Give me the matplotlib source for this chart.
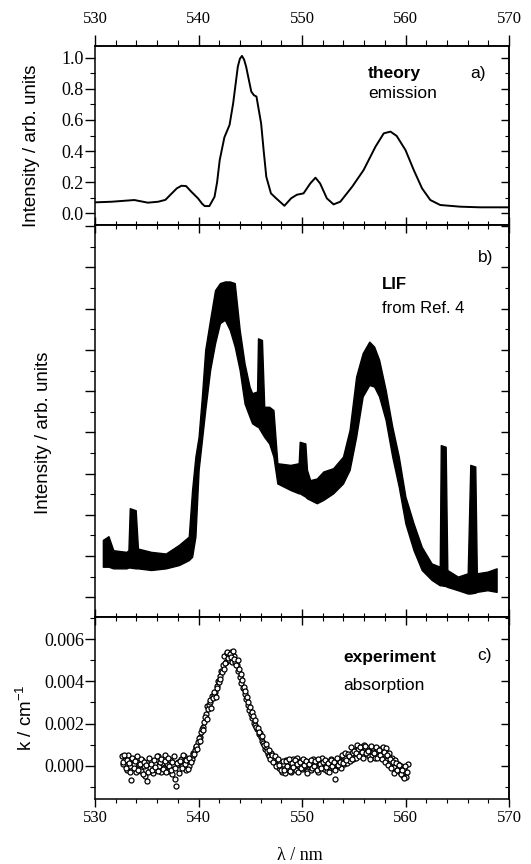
import numpy as np
import matplotlib
matplotlib.use("Agg")
import matplotlib.pyplot as plt
from matplotlib.ticker import MultipleLocator, FixedLocator

# ---- panel a) theory emission ----
theo_wl = [530.0, 531.6, 532.8, 533.8, 535.1, 536.1, 536.8, 537.2, 537.9, 538.35,
           538.8, 539.3, 539.95, 540.35, 540.6, 541.05, 541.55, 541.8, 542.05, 542.5,
           543.0, 543.35, 543.8, 544.0, 544.2, 544.4, 544.6, 545.1, 545.35, 545.6,
           546.05, 546.3, 546.55, 547.0, 547.5, 548.3, 548.95, 549.5, 550.15, 550.8,
           551.3, 551.75, 552.4, 553.05, 553.7, 554.85, 555.95, 557.1, 557.9, 558.55,
           559.15, 560.0, 560.8, 561.6, 562.4, 563.35, 565.3, 567.2, 570.0]
theo_int = [0.069, 0.073, 0.079, 0.084, 0.067, 0.073, 0.085, 0.112, 0.159, 0.176,
            0.174, 0.138, 0.095, 0.060, 0.045, 0.045, 0.105, 0.200, 0.342, 0.488,
            0.568, 0.708, 0.944, 0.995, 1.013, 0.990, 0.944, 0.783, 0.760, 0.751,
            0.578, 0.400, 0.234, 0.127, 0.095, 0.047, 0.095, 0.118, 0.127, 0.191,
            0.228, 0.191, 0.095, 0.056, 0.073, 0.170, 0.277, 0.428, 0.514, 0.525,
            0.497, 0.406, 0.277, 0.159, 0.084, 0.052, 0.041, 0.037, 0.037]

# ---- panel b) LIF, upper / lower edge of the drawn band (arb. units) ----
lif_wl = [530.76, 531.30, 531.77, 533.04, 533.23, 533.36, 533.93, 534.15, 535.42, 536.84,
          538.11, 539.06, 539.38, 539.70, 540.01, 540.33, 540.65, 541.12, 541.60, 542.07,
          542.55, 543.03, 543.50, 543.98, 544.45, 544.93, 545.18, 545.66, 545.75, 546.13,
          546.35, 546.83, 547.24, 547.62, 548.89, 549.68, 549.78, 550.32, 550.48, 550.79,
          551.43, 552.06, 553.01, 553.96, 554.60, 555.23, 555.86, 556.50, 556.97, 557.45,
          558.08, 558.72, 559.35, 559.99, 560.78, 561.57, 562.52, 563.31, 563.41, 563.88,
          564.04, 565.06, 566.01, 566.26, 566.74, 566.89, 567.91, 568.80]
lif_hi = [2.39, 2.48, 2.14, 2.10, 2.14, 3.16, 3.11, 2.18, 2.10, 2.06,
          2.27, 2.47, 3.60, 4.41, 4.89, 5.87, 7.00, 7.73, 8.45, 8.62,
          8.66, 8.66, 8.62, 7.48, 6.67, 6.11, 5.95, 5.99, 7.28, 7.24,
          5.62, 5.62, 5.54, 4.25, 4.21, 4.25, 4.77, 4.73, 4.09, 3.84,
          3.88, 4.05, 4.13, 4.41, 5.06, 6.35, 6.92, 7.20, 7.08, 6.76,
          6.03, 5.14, 4.41, 3.44, 2.79, 2.22, 1.82, 1.74, 4.69, 4.65,
          1.66, 1.50, 1.58, 4.21, 4.17, 1.58, 1.62, 1.70]
lif_lo = [1.74, 1.74, 1.70, 1.70, 1.72, 1.72, 1.70, 1.70, 1.66, 1.70,
          1.78, 1.90, 1.98, 2.47, 4.09, 4.81, 5.54, 6.51, 7.16, 7.65,
          7.73, 7.48, 7.08, 6.51, 5.70, 5.38, 5.22, 5.14, 5.14, 4.98,
          4.89, 4.73, 4.41, 3.76, 3.60, 3.52, 3.52, 3.44, 3.40, 3.36,
          3.28, 3.36, 3.52, 3.76, 4.09, 4.89, 5.87, 6.15, 6.11, 5.87,
          5.30, 4.41, 3.68, 2.79, 2.14, 1.66, 1.42, 1.29, 1.29, 1.27,
          1.25, 1.17, 1.09, 1.09, 1.11, 1.13, 1.17, 1.13]

# ---- panel c) absorption, k in 1e-3 cm^-1, two interleaved sweeps, 0.15 nm step ----
abs_start_1, abs_stop_1 = 532.6, 560.2
abs_k_milli_1 = [
    0.45, 0.1, 0.3, -0.2, 0.5, 0.0, -0.65, 0.35, 0.1, -0.3,
    0.4, 0.05, -0.25, 0.3, 0.0, -0.45, -0.7, 0.2, -0.1, 0.25,
    -0.35, 0.1, -0.2, 0.45, 0.0, -0.3, 0.15, -0.1, 0.5, 0.1,
    -0.25, 0.3, -0.4, 0.05, -0.6, -0.95, 0.2, -0.15, 0.35, 0.0,
    0.45, -0.2, 0.2, 0.0, 0.3,
    0.35, 0.6, 0.75, 0.9, 1.15, 1.35, 1.6, 1.85, 2.1, 2.45,
    2.85, 2.9, 3.0, 3.3, 3.35, 3.5, 3.8, 4.0, 4.25, 4.5,
    4.75, 5.2, 4.9, 5.35, 5.0, 5.4, 4.9, 5.2, 4.9, 4.75,
    4.5, 4.2, 3.9, 3.7, 3.4, 3.15, 2.9, 2.65, 2.45, 2.25,
    2.05, 1.95, 1.75, 1.5, 1.55, 1.2, 1.1, 0.8, 0.9, 0.55,
    0.45, 0.6, 0.25, 0.4, 0.1, 0.3, -0.1, 0.2, -0.3,
    0.1, -0.35, 0.3, -0.1, 0.2, -0.3, 0.35, 0.05, -0.2, 0.4,
    0.0, 0.25, -0.15, 0.3, 0.0, -0.25, 0.2, 0.05, -0.2, 0.35,
    -0.05, 0.15, -0.3, 0.2, 0.0, 0.4, -0.15, 0.1, -0.25, 0.2,
    0.05, 0.35, -0.1, -0.6, 0.2, 0.0, 0.3, -0.1, 0.25, 0.1,
    0.4, 0.15, 0.5, 0.25, 0.6, 0.35, 0.75, 0.4, 0.8, 0.5,
    0.9, 0.55, 1.0, 0.6, 0.85, 0.45, 0.75, 0.5, 0.85, 0.4,
    0.7, 0.45, 0.8, 0.5, 0.9, 0.55, 0.85, 0.3, 0.6, 0.15,
    0.4, -0.05, 0.3, -0.2, 0.1, -0.3, 0.0, -0.45, -0.1, -0.5,
    0.1,
]
abs_start_2, abs_stop_2 = 532.675, 560.125
abs_k_milli_2 = [
    0.2, 0.5, -0.1, 0.3, 0.15, -0.3, 0.4, -0.1, 0.25, 0.45,
    -0.2, 0.1, 0.35, -0.4, 0.2, 0.05, -0.3, 0.4, 0.1, -0.2,
    0.3, -0.05, 0.45, -0.25, 0.2, 0.35, -0.15, 0.25, -0.3, 0.4,
    0.0, -0.2, 0.2, 0.45, -0.1, 0.15, -0.35, 0.25, -0.1, 0.5,
    0.1, 0.3, -0.15, 0.4, 0.2,
    0.5, 0.55, 0.95, 0.8, 1.3, 1.2, 1.75, 1.7, 2.3, 2.2,
    2.7, 3.1, 2.75, 3.2, 3.5, 3.25, 3.7, 3.95, 4.1, 4.45,
    4.6, 4.85, 5.4, 5.1, 5.3, 5.15, 5.45, 5.05, 4.75, 5.0,
    4.6, 4.35, 4.05, 3.75, 3.55, 3.25, 3.0, 2.8, 2.55, 2.35,
    2.15, 1.85, 1.8, 1.6, 1.35, 1.4, 1.0, 1.05, 0.7, 0.75,
    0.35, 0.5, 0.2, 0.45, 0.0, 0.35, 0.05, -0.2, 0.25,
    -0.2, 0.25, 0.0, 0.35, -0.25, 0.15, -0.05, 0.3, 0.1, -0.3,
    0.2, -0.1, 0.35, 0.05, 0.25, -0.35, 0.1, 0.3, -0.1, 0.0,
    0.25, -0.2, 0.35, 0.1, -0.1, 0.2, 0.3, -0.05, 0.15, -0.3,
    0.3, 0.0, 0.2, -0.2, 0.4, 0.05, 0.2, 0.5, 0.15, 0.6,
    0.3, 0.55, 0.45, 0.9, 0.35, 0.7, 0.6, 1.0, 0.45, 0.9,
    0.65, 0.4, 0.95, 0.6, 0.7, 0.35, 0.95, 0.65, 0.6, 0.9,
    0.4, 0.75, 0.5, 0.35, 0.65, 0.2, 0.5, 0.05, 0.35, -0.1,
    0.2, -0.35, 0.15, -0.2, 0.05, -0.4, -0.2, -0.55, 0.0, -0.3,
]

SANS = "Liberation Sans"
SERIF = "Liberation Serif"
plt.rcParams["font.family"] = SERIF
plt.rcParams["axes.linewidth"] = 1.1

W, H = 531, 864
fig = plt.figure(figsize=(W / 100, H / 100), dpi=100)


def box(top, bottom, left=95, right=509):
    return [left / W, 1 - bottom / H, (right - left) / W, (bottom - top) / H]


ax_a = fig.add_axes(box(46, 225))
ax_b = fig.add_axes(box(225, 617))
ax_c = fig.add_axes(box(617, 799))

x_major = [530, 540, 550, 560, 570]
x_minor = list(range(530, 571, 2))


def style(ax, ymaj, ymin, top_out=False, bottom_out=False, top_labels=False, bottom_labels=False):
    ax.set_xlim(530, 570)
    ax.xaxis.set_major_locator(FixedLocator(x_major))
    ax.xaxis.set_minor_locator(FixedLocator(x_minor))
    ax.yaxis.set_major_locator(MultipleLocator(ymaj))
    ax.yaxis.set_minor_locator(MultipleLocator(ymin))
    # left ticks outward, right ticks inward
    ax.tick_params(axis="y", which="major", direction="out", length=7, width=1, pad=1,
                   labelsize=13, labelfontfamily=SERIF)
    ax.tick_params(axis="y", which="minor", direction="out", length=3.5, width=0.8)
    ry = ax.secondary_yaxis("right")
    ry.yaxis.set_major_locator(MultipleLocator(ymaj))
    ry.yaxis.set_minor_locator(MultipleLocator(ymin))
    ry.tick_params(which="major", direction="in", length=6, width=1, labelright=False)
    ry.tick_params(which="minor", direction="in", length=3, width=0.8)
    # bottom edge
    d_bot = "out" if bottom_out else "in"
    ax.tick_params(axis="x", which="major", direction=d_bot, length=6, width=1,
                   labelbottom=bottom_labels, labelsize=12, pad=2, labelfontfamily=SERIF)
    ax.tick_params(axis="x", which="minor", direction=d_bot, length=3, width=0.8)
    # top edge
    d_top = "out" if top_out else "in"
    tx = ax.secondary_xaxis("top")
    tx.xaxis.set_major_locator(FixedLocator(x_major))
    tx.xaxis.set_minor_locator(FixedLocator(x_minor))
    tx.tick_params(which="major", direction=d_top, length=8 if top_out else 6, width=1,
                   labeltop=top_labels, labelsize=12, pad=6, labelfontfamily=SERIF)
    tx.tick_params(which="minor", direction=d_top, length=4 if top_out else 3, width=0.8)
    return ry, tx


# a) theory
ax_a.plot(theo_wl, theo_int, color="black", lw=1.4, solid_joinstyle="round")
ax_a.set_ylim(-0.077, 1.077)
style(ax_a, 0.2, 0.1, top_out=True, top_labels=True)
ax_a.yaxis.set_major_formatter(lambda v, p: f"{v:.1f}")
ax_a.text(0.659, 0.849, "theory", transform=ax_a.transAxes, family=SANS,
          fontweight="bold", fontsize=12.5, va="center")
ax_a.text(0.659, 0.737, "emission", transform=ax_a.transAxes, family=SANS,
          fontsize=12.5, va="center")
ax_a.text(0.906, 0.849, "a)", transform=ax_a.transAxes, family=SANS,
          fontsize=12.5, va="center")

# b) LIF
ax_b.fill_between(lif_wl, lif_lo, lif_hi, facecolor="black", edgecolor="black", lw=1.0)
ax_b.set_ylim(0.52, 10.03)
style(ax_b, 1, 0.5)
ax_b.tick_params(axis="y", labelleft=False)
ax_b.text(0.925, 0.918, "b)", transform=ax_b.transAxes, family=SANS,
          fontsize=12.5, va="center")
ax_b.text(0.693, 0.847, "LIF", transform=ax_b.transAxes, family=SANS,
          fontweight="bold", fontsize=12, va="center")
ax_b.text(0.693, 0.788, "from Ref. 4", transform=ax_b.transAxes, family=SANS,
          fontsize=12, va="center")

# c) absorption
for start, stop, vals in [(abs_start_1, abs_stop_1, abs_k_milli_1),
                          (abs_start_2, abs_stop_2, abs_k_milli_2)]:
    wl = np.linspace(start, stop, len(vals))
    ax_c.plot(wl, np.array(vals) * 1e-3, ls="none", marker="o", ms=3.6,
              mfc="white", mec="black", mew=0.9)
ax_c.set_ylim(-0.00156, 0.00704)
style(ax_c, 0.002, 0.001, bottom_out=True, bottom_labels=True)
ax_c.yaxis.set_major_formatter(lambda v, p: f"{v:.3f}")
ax_c.text(0.923, 0.79, "c)", transform=ax_c.transAxes, family=SANS,
          fontsize=12.5, va="center")
ax_c.text(0.599, 0.775, "experiment", transform=ax_c.transAxes, family=SANS,
          fontweight="bold", fontsize=12.5, va="center")
ax_c.text(0.599, 0.626, "absorption", transform=ax_c.transAxes, family=SANS,
          fontsize=12.5, va="center")

# axis labels
fig.text(32 / W, 1 - 146 / H, "Intensity / arb. units", rotation=90, family=SANS,
         fontsize=13.5, ha="center", va="center")
fig.text(44 / W, 1 - 433 / H, "Intensity / arb. units", rotation=90, family=SANS,
         fontsize=13.5, ha="center", va="center")
fig.text(26 / W, 1 - 718 / H, "k / cm$^{\\mathregular{-1}}$", rotation=90, family=SANS,
         fontsize=13.5, ha="center", va="center")
fig.text(300 / W, 1 - 856 / H, "\u03bb / nm", family=SERIF, fontsize=13,
         ha="center", va="center")

fig.savefig("out.png", dpi=100)
